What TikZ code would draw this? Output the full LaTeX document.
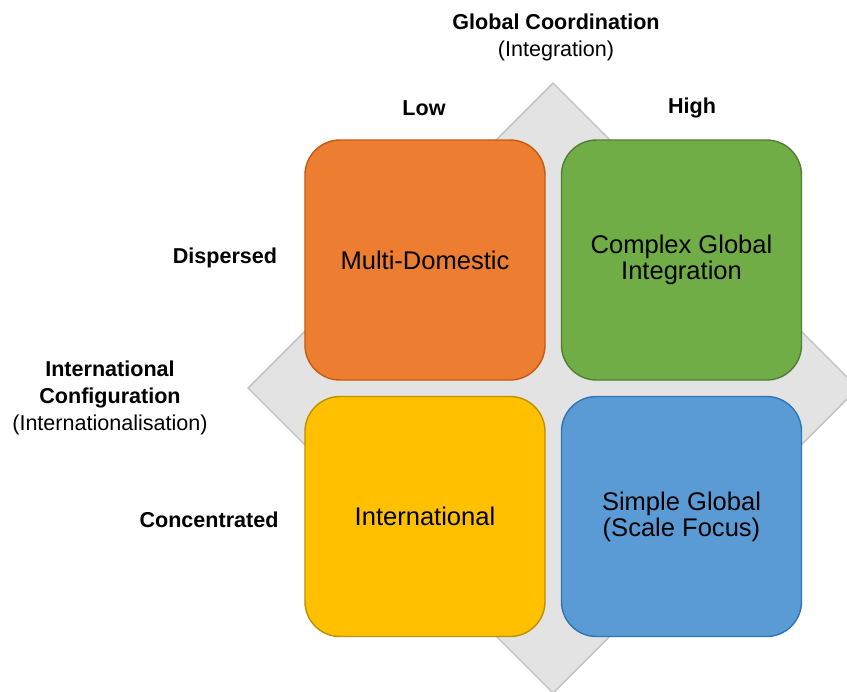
\documentclass[tikz,border=0pt]{standalone}
\usepackage{xcolor}
\usepackage{fontspec}
\setmainfont{Liberation Sans}
\usepackage{tikz}

\definecolor{orangefill}{HTML}{ED7D31}
\definecolor{orangeline}{HTML}{C55A11}
\definecolor{greenfill}{HTML}{70AD47}
\definecolor{greenline}{HTML}{507E32}
\definecolor{yellowfill}{HTML}{FFC000}
\definecolor{yellowline}{HTML}{BF9000}
\definecolor{bluefill}{HTML}{5B9BD5}
\definecolor{blueline}{HTML}{2E75B6}
\definecolor{diamondfill}{HTML}{E3E3E3}
\definecolor{diamondline}{HTML}{C0C0C0}

\tikzset{
    quad/.style={rounded corners=1.05cm, minimum width=7.2cm, minimum height=7.2cm,
        line width=1.2pt, align=center, font=\fontsize{21.8}{22}\selectfont},
    axislabel/.style={align=center, font=\fontsize{18.4}{23}\selectfont},
}

\begin{document}
\begin{tikzpicture}[x=0.03cm, y=-0.03cm]
            \useasboundingbox (0,0) rectangle (847,691);
            \clip (0,0) rectangle (847,691);
            \fill[white] (0,0) rectangle (847,691);
            % grey diamond behind the four quadrants
            \filldraw[fill=diamondfill, draw=diamondline, line width=1.2pt]
                (553,83) -- (858,388) -- (553,693) -- (248,388) -- cycle;
            % quadrants
            \node[quad, fill=orangefill, draw=orangeline] (multi) at (425,260) {Multi-Domestic};
            \node[quad, fill=greenfill, draw=greenline] (complex) at (681.5,260) {Complex Global\\Integration};
            \node[quad, fill=yellowfill, draw=yellowline] (intl) at (425,516.5) {International};
            \node[quad, fill=bluefill, draw=blueline] (simple) at (681.5,516.5) {Simple Global\\(Scale Focus)};
            % axis labels
            \node[axislabel] (coord) at (556,37) {\textbf{Global Coordination}\\(Integration)};
            \node[axislabel] (low) at (424,108) {\textbf{Low}};
            \node[axislabel] (high) at (692,108) {\textbf{High}};
            \node[axislabel] (config) at (110,398) {\textbf{International}\\\textbf{Configuration}\\(Internationalisation)};
            \node[axislabel] (dispersed) at (225,258) {\textbf{Dispersed}};
            \node[axislabel] (concentrated) at (209,520) {\textbf{Concentrated}};
        \end{tikzpicture}
\end{document}
